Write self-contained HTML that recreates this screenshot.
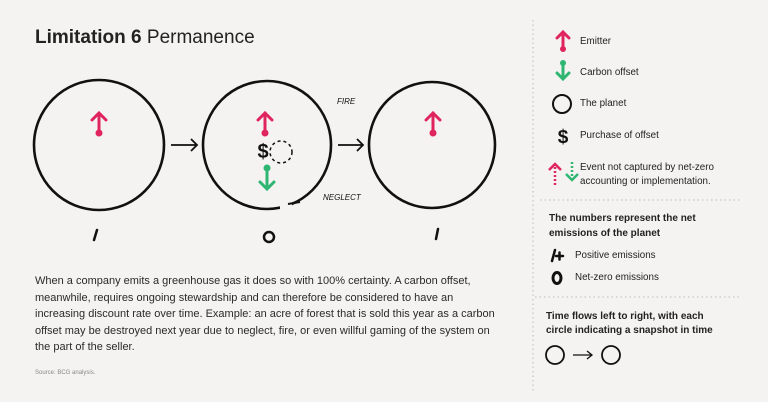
<!DOCTYPE html>
<html><head><meta charset="utf-8"><style>
body{margin:0;width:768px;height:402px;background:#f4f3f1;overflow:hidden;position:relative;font-family:"Liberation Sans",sans-serif;color:#222}
.t{position:absolute;white-space:nowrap}
</style></head><body>
<div class="t" style="left:35px;top:27px;font-size:19px;"><b>Limitation 6</b> Permanence</div>
<div class="t" style="left:35px;top:273px;font-size:11px;line-height:16.6px;color:#2a2a2a">When a company emits a greenhouse gas it does so with 100% certainty. A carbon offset,<br>meanwhile, requires ongoing stewardship and can therefore be considered to have an<br>increasing discount rate over time. Example: an acre of forest that is sold this year as a carbon<br>offset may be destroyed next year due to neglect, fire, or even willful gaming of the system on<br>the part of the seller.</div>
<div class="t" style="left:35px;top:370px;font-size:6px;color:#888">Source: BCG analysis.</div>

<svg width="768" height="402" style="position:absolute;left:0;top:0">
<g fill="none" stroke="#111" stroke-width="2.6">
<circle cx="99" cy="145" r="65"/>
<circle cx="267" cy="145" r="64"/>
<circle cx="432" cy="145" r="63"/>
</g>
<rect x="280" y="200" width="12" height="12" fill="#f4f3f1"/>
<path d="M288 204 L300 202" stroke="#111" stroke-width="2"/>
<g stroke="#111" stroke-width="1.8" fill="none">
<path d="M171 145H197M191 139L197 145L191 151"/>
<path d="M338 145H363M357 139L363 145L357 151"/>
</g>
<g stroke="#e0245e" stroke-width="3" fill="none" stroke-linecap="round">
<path d="M99 132V113M92 120L99 113L106 120"/>
<path d="M265 132V113M258 120L265 113L272 120"/>
<path d="M433 132V113M426 120L433 113L440 120"/>
</g>
<g fill="#e0245e"><circle cx="99" cy="133" r="3.5"/><circle cx="265" cy="133" r="3.5"/><circle cx="433" cy="133" r="3.5"/></g>
<path d="M267 169V189M260 182L267 189L274 182" stroke="#2fb673" stroke-width="3" fill="none" stroke-linecap="round"/>
<circle cx="267" cy="168" r="3.5" fill="#2fb673"/>
<text x="263" y="158" font-size="20" font-weight="bold" text-anchor="middle" font-family="Liberation Sans" fill="#111">$</text>
<circle cx="281" cy="152" r="11" fill="none" stroke="#111" stroke-width="1.5" stroke-dasharray="3 3"/>
<text x="337" y="104" font-size="8" font-style="italic" fill="#111" font-family="Liberation Sans">FIRE</text>
<text x="323" y="200" font-size="8" font-style="italic" fill="#111" font-family="Liberation Sans">NEGLECT</text>
<g stroke="#111" stroke-width="2.5" fill="none" stroke-linecap="round">
<path d="M97 230L94 240"/><path d="M438 229L436 239"/>
<ellipse cx="269" cy="237" rx="5" ry="5"/>
</g>
<g stroke="#bbb" stroke-width="1" stroke-dasharray="1.5 3">
<path d="M533 20V392"/><path d="M540 200H740"/><path d="M535 297H740"/>
</g>
<g stroke="#e0245e" stroke-width="3" fill="none" stroke-linecap="round">
<path d="M563 48V32M557 38L563 32L569 38"/>
</g>
<circle cx="563" cy="49" r="3" fill="#e0245e"/>
<path d="M563 64V79M557 73L563 79L569 73" stroke="#2fb673" stroke-width="3" fill="none" stroke-linecap="round"/>
<circle cx="563" cy="63" r="3" fill="#2fb673"/>
<circle cx="562" cy="104" r="9" fill="none" stroke="#111" stroke-width="2"/>
<text x="563" y="143" font-size="19" font-weight="bold" text-anchor="middle" fill="#111" font-family="Liberation Sans">$</text>
<path d="M549 170L555 164L561 170" stroke="#e0245e" stroke-width="2.5" fill="none"/>
<path d="M555 167V186" stroke="#e0245e" stroke-width="2.5" stroke-dasharray="2 2"/>
<path d="M566 174L572 180L578 174" stroke="#2fb673" stroke-width="2.5" fill="none"/>
<path d="M572 162V180" stroke="#2fb673" stroke-width="2.5" stroke-dasharray="2 2"/>
<g stroke="#111" stroke-width="2.5" fill="none" stroke-linecap="round">
<path d="M555 250L552 261"/><path d="M556 256H563M559.5 252.5V259.5"/>
</g>
<ellipse cx="557" cy="278" rx="4" ry="5.5" fill="none" stroke="#111" stroke-width="3"/>
<circle cx="555" cy="355" r="9" fill="none" stroke="#111" stroke-width="1.8"/>
<path d="M573 355H592M587 351L592 355L587 359" stroke="#111" stroke-width="1.3" fill="none"/>
<circle cx="611" cy="355" r="9" fill="none" stroke="#111" stroke-width="1.8"/>
</svg>
<div style="position:absolute;left:580px;font-size:9.8px;color:#222">
<div class="t" style="top:36px">Emitter</div>
<div class="t" style="top:67px">Carbon offset</div>
<div class="t" style="top:98px">The planet</div>
<div class="t" style="top:130px">Purchase of offset</div>
<div class="t" style="top:161px;line-height:14px">Event not captured by net-zero<br>accounting or implementation.</div>
</div>
<div class="t" style="left:549px;top:211px;font-size:10px;font-weight:bold;line-height:15px">The numbers represent the net<br>emissions of the planet</div>
<div class="t" style="left:575px;top:250px;font-size:9.8px">Positive emissions</div>
<div class="t" style="left:575px;top:272px;font-size:9.8px">Net-zero emissions</div>
<div class="t" style="left:546px;top:310px;font-size:10px;font-weight:bold;line-height:14px">Time flows left to right, with each<br>circle indicating a snapshot in time</div>
</body></html>
